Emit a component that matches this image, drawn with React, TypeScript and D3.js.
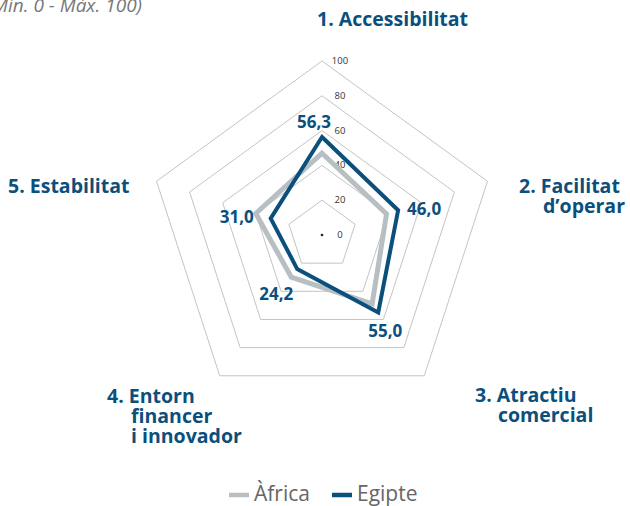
import React from "react";
import * as d3 from "d3";

const axes = ["1. Accessibilitat", "2. Facilitat d’operar", "3. Atractiu comercial", "4. Entorn financer i innovador", "5. Estabilitat"];
const africa = [47, 39, 49, 30, 40];
const egipte = [56.3, 46.0, 55.0, 24.2, 31.0];
const ticks = [0, 20, 40, 60, 80, 100];
const rings = [20, 40, 60, 80, 100];
const seriesNames = ["Àfrica", "Egipte"];

const W = 630, H = 506;
const cx = 322, cy = 235, R = 174;
const BLUE = "#0b4f7d";
const GREY = "#b7bfc3";
const FONT = "'Open Sans', 'Noto Sans', sans-serif";

export default function App() {
  const r = d3.scaleLinear().domain([0, 100]).range([0, R]);
  const ang = (i: number) => (i * 2 * Math.PI) / 5;
  const pt = (i: number, v: number): [number, number] => [cx + r(v) * Math.sin(ang(i)), cy - r(v) * Math.cos(ang(i))];
  const line = d3.line<[number, number]>().curve(d3.curveLinearClosed);
  const poly = (vals: number[]) => line(vals.map((v, i) => pt(i, v))) || "";

  const fmt = (v: number) => v.toFixed(1).replace(".", ",");
  const valOffsets: [number, number][] = [[-8, -9], [26, 5], [7, 25], [-21, 31], [-34, 5]];

  const axisLabels: { x: number; y: number; lines: { t: string; dx: number }[] }[] = [
    { x: 317, y: 26, lines: [{ t: "1. Accessibilitat", dx: 0 }] },
    { x: 519, y: 193, lines: [{ t: "2. Facilitat", dx: 0 }, { t: "d’operar", dx: 24 }] },
    { x: 475, y: 402, lines: [{ t: "3. Atractiu", dx: 0 }, { t: "comercial", dx: 23 }] },
    { x: 107, y: 403, lines: [{ t: "4. Entorn", dx: 0 }, { t: "financer", dx: 24 }, { t: "i innovador", dx: 24 }] },
    { x: 8, y: 193, lines: [{ t: "5. Estabilitat", dx: 0 }] },
  ];

  return (
    <svg width={W} height={H} style={{ position: "absolute", left: 0, top: 0, background: "#fff" }} fontFamily={FONT}>
      <text x={142} y={12} textAnchor="end" fontStyle="italic" fontSize={19} fill="#777">(Mín. 0 - Màx. 100)</text>
      {rings.map((v) => (
        <path key={v} d={poly([v, v, v, v, v])} fill="none" stroke="#c4c4c4" strokeWidth={1} />
      ))}
      <circle cx={cx} cy={cy} r={1.3} fill="#222" />
      {ticks.map((t) => (
        <text key={t} x={cx + 18} y={cy - r(t) + 3} fontSize={9.5} fill="#333" textAnchor="middle">{t}</text>
      ))}
      <path d={poly(africa)} fill="none" stroke={GREY} strokeWidth={5} strokeLinejoin="miter" />
      <path d={poly(egipte)} fill="none" stroke={BLUE} strokeWidth={4} strokeLinejoin="miter" />
      {egipte.map((v, i) => {
        const [x, y] = pt(i, v);
        return (
          <text key={i} x={x + valOffsets[i][0]} y={y + valOffsets[i][1]} textAnchor="middle" fontWeight="bold" fontSize={17} fill={BLUE}>{fmt(v)}</text>
        );
      })}
      {axisLabels.map((a, i) => (
        <text key={axes[i]} fontWeight="bold" fontSize={19.5} fill={BLUE}>
          {a.lines.map((l, j) => (
            <tspan key={j} x={a.x + l.dx} y={a.y + j * 20}>{l.t}</tspan>
          ))}
        </text>
      ))}
      <g fontSize={21} fill="#666">
        <line x1={229} x2={249} y1={495} y2={495} stroke={GREY} strokeWidth={4.5} />
        <text x={254} y={500.5}>{seriesNames[0]}</text>
        <line x1={332} x2={352} y1={495} y2={495} stroke={BLUE} strokeWidth={4.5} />
        <text x={357} y={500.5}>{seriesNames[1]}</text>
      </g>
    </svg>
  );
}
